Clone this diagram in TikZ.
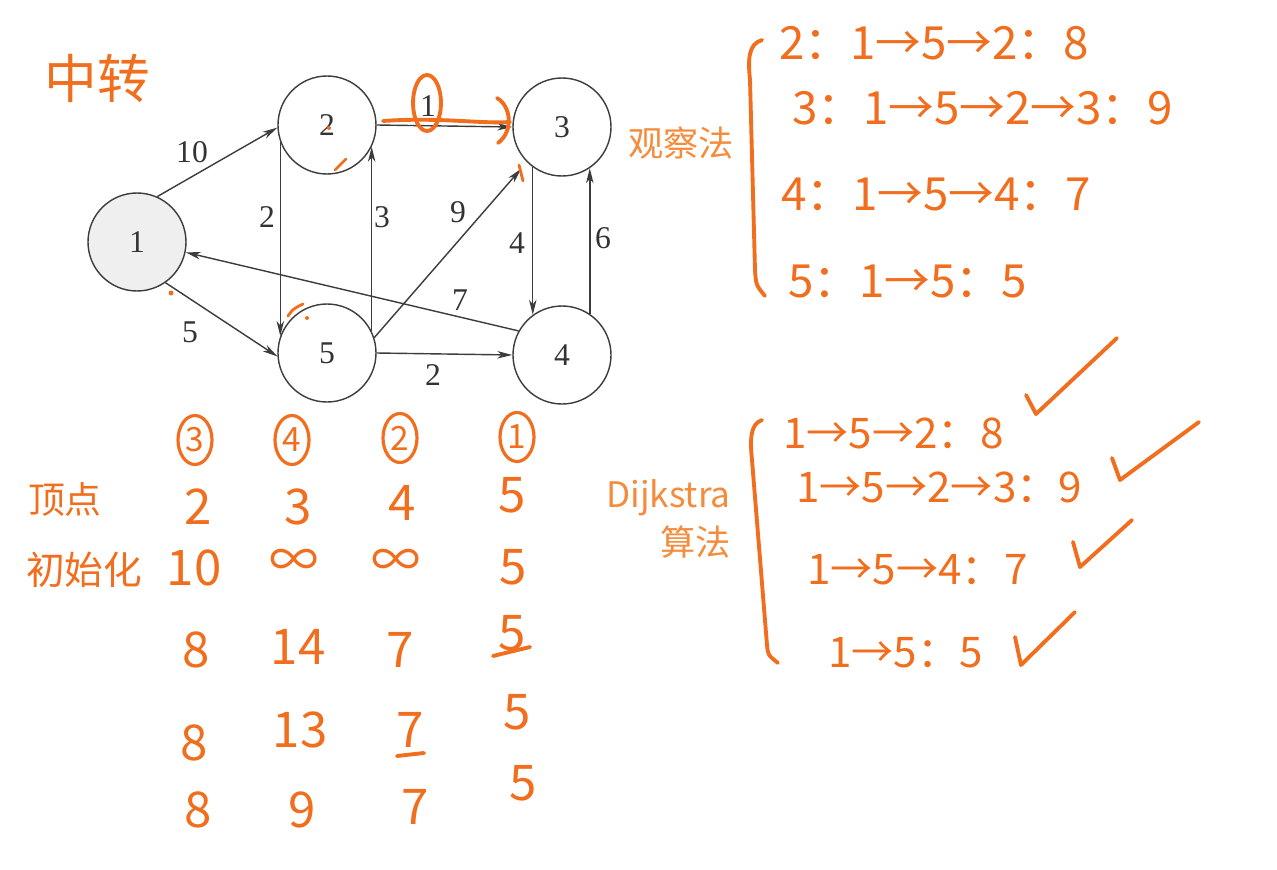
\documentclass[tikz,border=0pt]{standalone}
\usepackage{fontspec}
\setmainfont{Liberation Serif}
\newfontfamily\hand{Noto Sans CJK SC}
\usetikzlibrary{arrows.meta,shapes.geometric}

\begin{document}
\begin{tikzpicture}[x=0.2mm, y=-0.2mm,
  vertex/.style={circle, draw=graphGray, line width=0.8pt, minimum size=1.96cm, inner sep=0pt,
    font=\fontsize{18}{18}\selectfont, text=black!80},
  edge/.style={draw=graphGray, line width=0.8pt, -{Stealth[length=8.5pt,width=4.2pt,inset=2.5pt]}},
  wlabel/.style={font=\fontsize{18}{18}\selectfont, text=black!80, inner sep=0pt},
  hand/.style={text=handOrange, font=\hand\fontsize{26}{26}\selectfont, inner sep=0pt},
  handmid/.style={text=handOrange, font=\hand\fontsize{24}{24}\selectfont, inner sep=0pt},
  handbig/.style={text=handOrange, font=\hand\fontsize{28}{28}\selectfont, inner sep=0pt},
  circled/.style={ellipse, draw=handOrange, line width=1.8pt, text=handOrange, minimum width=0.68cm,
    minimum height=0.98cm, inner sep=0pt, font=\hand\fontsize{19}{19}\selectfont},
  handline/.style={draw=handOrange, line width=2.2pt, line cap=round, line join=round},
  typed/.style={text=typeOrange, font=\hand\fontsize{20}{27}\selectfont, inner sep=0pt}
]

% Colori
\definecolor{graphGray}{HTML}{3C3C3C}
\definecolor{nodeFill}{HTML}{EFEFEF}
\definecolor{handOrange}{HTML}{F06E1E}
\definecolor{typeOrange}{HTML}{F58C3C}

\path[fill=white, use as bounding box] (0,0) rectangle (1277,870);

% Grafo
\node[vertex, fill=nodeFill] (n1) at (137,242) {1};
\node[vertex] (n2) at (327,125) {2};
\node[vertex] (n3) at (562,127) {3};
\node[vertex] (n4) at (562,355) {4};
\node[vertex] (n5) at (327,353) {5};

\draw[edge] (n1.66) -- (n2.183);
\draw[edge] (n1.-55) -- (n5.184);
\draw[edge] (n2.200) -- (n5.160);
\draw[edge] (n5.26) -- (n2.-26);
\draw[edge] (n2.east) -- (n3.west);
\draw[edge, shorten >=5pt] (n5.18) -- (n3.225);
\draw[edge] (n3.234) -- (n4.126);
\draw[edge] (n4.56) -- (n3.-56);
\draw[edge] (n5.east) -- (n4.west);
\draw[edge] (n4.151) -- (n1.-12);

% Pesi
\node[wlabel] (w12) at (192,152) {10};
\node[wlabel] (w15) at (190,332) {5};
\node[wlabel] (w25) at (267,217) {2};
\node[wlabel] (w52) at (382,217) {3};
\node[wlabel] (w23) at (428,106) {1};
\node[wlabel] (w53) at (458,212) {9};
\node[wlabel] (w34) at (517,243) {4};
\node[wlabel] (w43) at (603,238) {6};
\node[wlabel] (w41) at (460,300) {7};
\node[wlabel] (w54) at (433,375) {2};

% Note a mano sul grafo
\node[hand, font=\hand\fontsize{30}{30}\selectfont] (relay) at (97,78) {中转};
\draw[handline] (427,103) ellipse [x radius=14, y radius=28];
\draw[handline] (383,121) .. controls (440,117) and (480,124) .. (510,122);
\draw[handline] (497,98) .. controls (511,106) and (514,131) .. (498,143);
\draw[handline, line width=1.6pt] (335,170) -- (346,159);
\draw[handline, line width=1.6pt] (288,316) .. controls (293,309) .. (303,304);
\draw[handline, line width=1.6pt] (519,165) -- (523,181);
\fill[handOrange] (329,128) circle (2);
\fill[handOrange] (307,318) circle (2);
\fill[handOrange] (171,293) circle (2.5);

% Metodo per osservazione
\node[typed] (obs) at (681,143) {观察法};
\draw[handline] (762,40) .. controls (748,44) and (748,60) .. (750,80) -- (755,270)
  .. controls (756,285) .. (765,296);
\node[hand, anchor=west] (o2) at (779,43) {2：1→5→2：8};
\node[hand, anchor=west] (o3) at (792,108) {3：1→5→2→3：9};
\node[hand, anchor=west] (o4) at (781,195) {4：1→5→4：7};
\node[hand, anchor=west] (o5) at (788,282) {5：1→5：5};

% Dijkstra
\node[typed, align=right, anchor=east] (dij) at (731,519) {Dijkstra\\算法};
\draw[handline] (762,420) .. controls (750,424) and (750,440) .. (752,460) -- (767,645)
  .. controls (768,655) .. (778,663);
\node[handmid, anchor=west] (d2) at (783,433) {1→5→2：8};
\node[handmid, anchor=west] (d3) at (796,487) {1→5→2→3：9};
\node[handmid, anchor=west] (d4) at (807,570) {1→5→4：7};
\node[handmid, anchor=west] (d5) at (828,653) {1→5：5};
\draw[handline] (1026,395) -- (1036,414) -- (1117,338);
\draw[handline] (1112,458) -- (1120,480) -- (1199,422);
\draw[handline] (1073,542) -- (1080,567) -- (1132,520);
\draw[handline] (1015,637) -- (1021,665) -- (1075,612);

% Tabella
\node[circled] (c3) at (195,440) {3};
\node[circled] (c4) at (292,440) {4};
\node[circled] (c2) at (400,438) {2};
\node[circled] (c1) at (517,437) {1};

\node[hand, font=\hand\fontsize{21}{21}\selectfont] (rowv) at (65,500) {顶点};
\node[hand, font=\hand\fontsize{22}{22}\selectfont] (rowi) at (84,570) {初始化};

\node[handbig] (a1) at (198,507) {2};
\node[handbig] (a2) at (298,507) {3};
\node[handbig] (a3) at (402,503) {4};
\node[handbig] (a4) at (512,495) {5};

\node[handbig] (b1) at (194,568) {10};
\node[handbig] (b2) at (294,563) {∞};
\node[handbig] (b3) at (396,563) {∞};
\node[handbig] (b4) at (513,567) {5};

\node[handbig] (e1) at (196,650) {8};
\node[handbig] (e2) at (298,647) {14};
\node[handbig] (e3) at (400,650) {7};
\node[handbig] (e4) at (512,633) {5};
\draw[handline] (493,656) -- (530,647);

\node[handbig] (f1) at (194,743) {8};
\node[handbig] (f2) at (300,730) {13};
\node[handbig] (f3) at (410,730) {7};
\node[handbig] (f4) at (517,712) {5};
\draw[handline] (397,756) -- (424,753);

\node[handbig] (g1) at (198,810) {8};
\node[handbig] (g2) at (302,810) {9};
\node[handbig] (g3) at (415,807) {7};
\node[handbig] (g4) at (523,783) {5};
\end{tikzpicture}
\end{document}
